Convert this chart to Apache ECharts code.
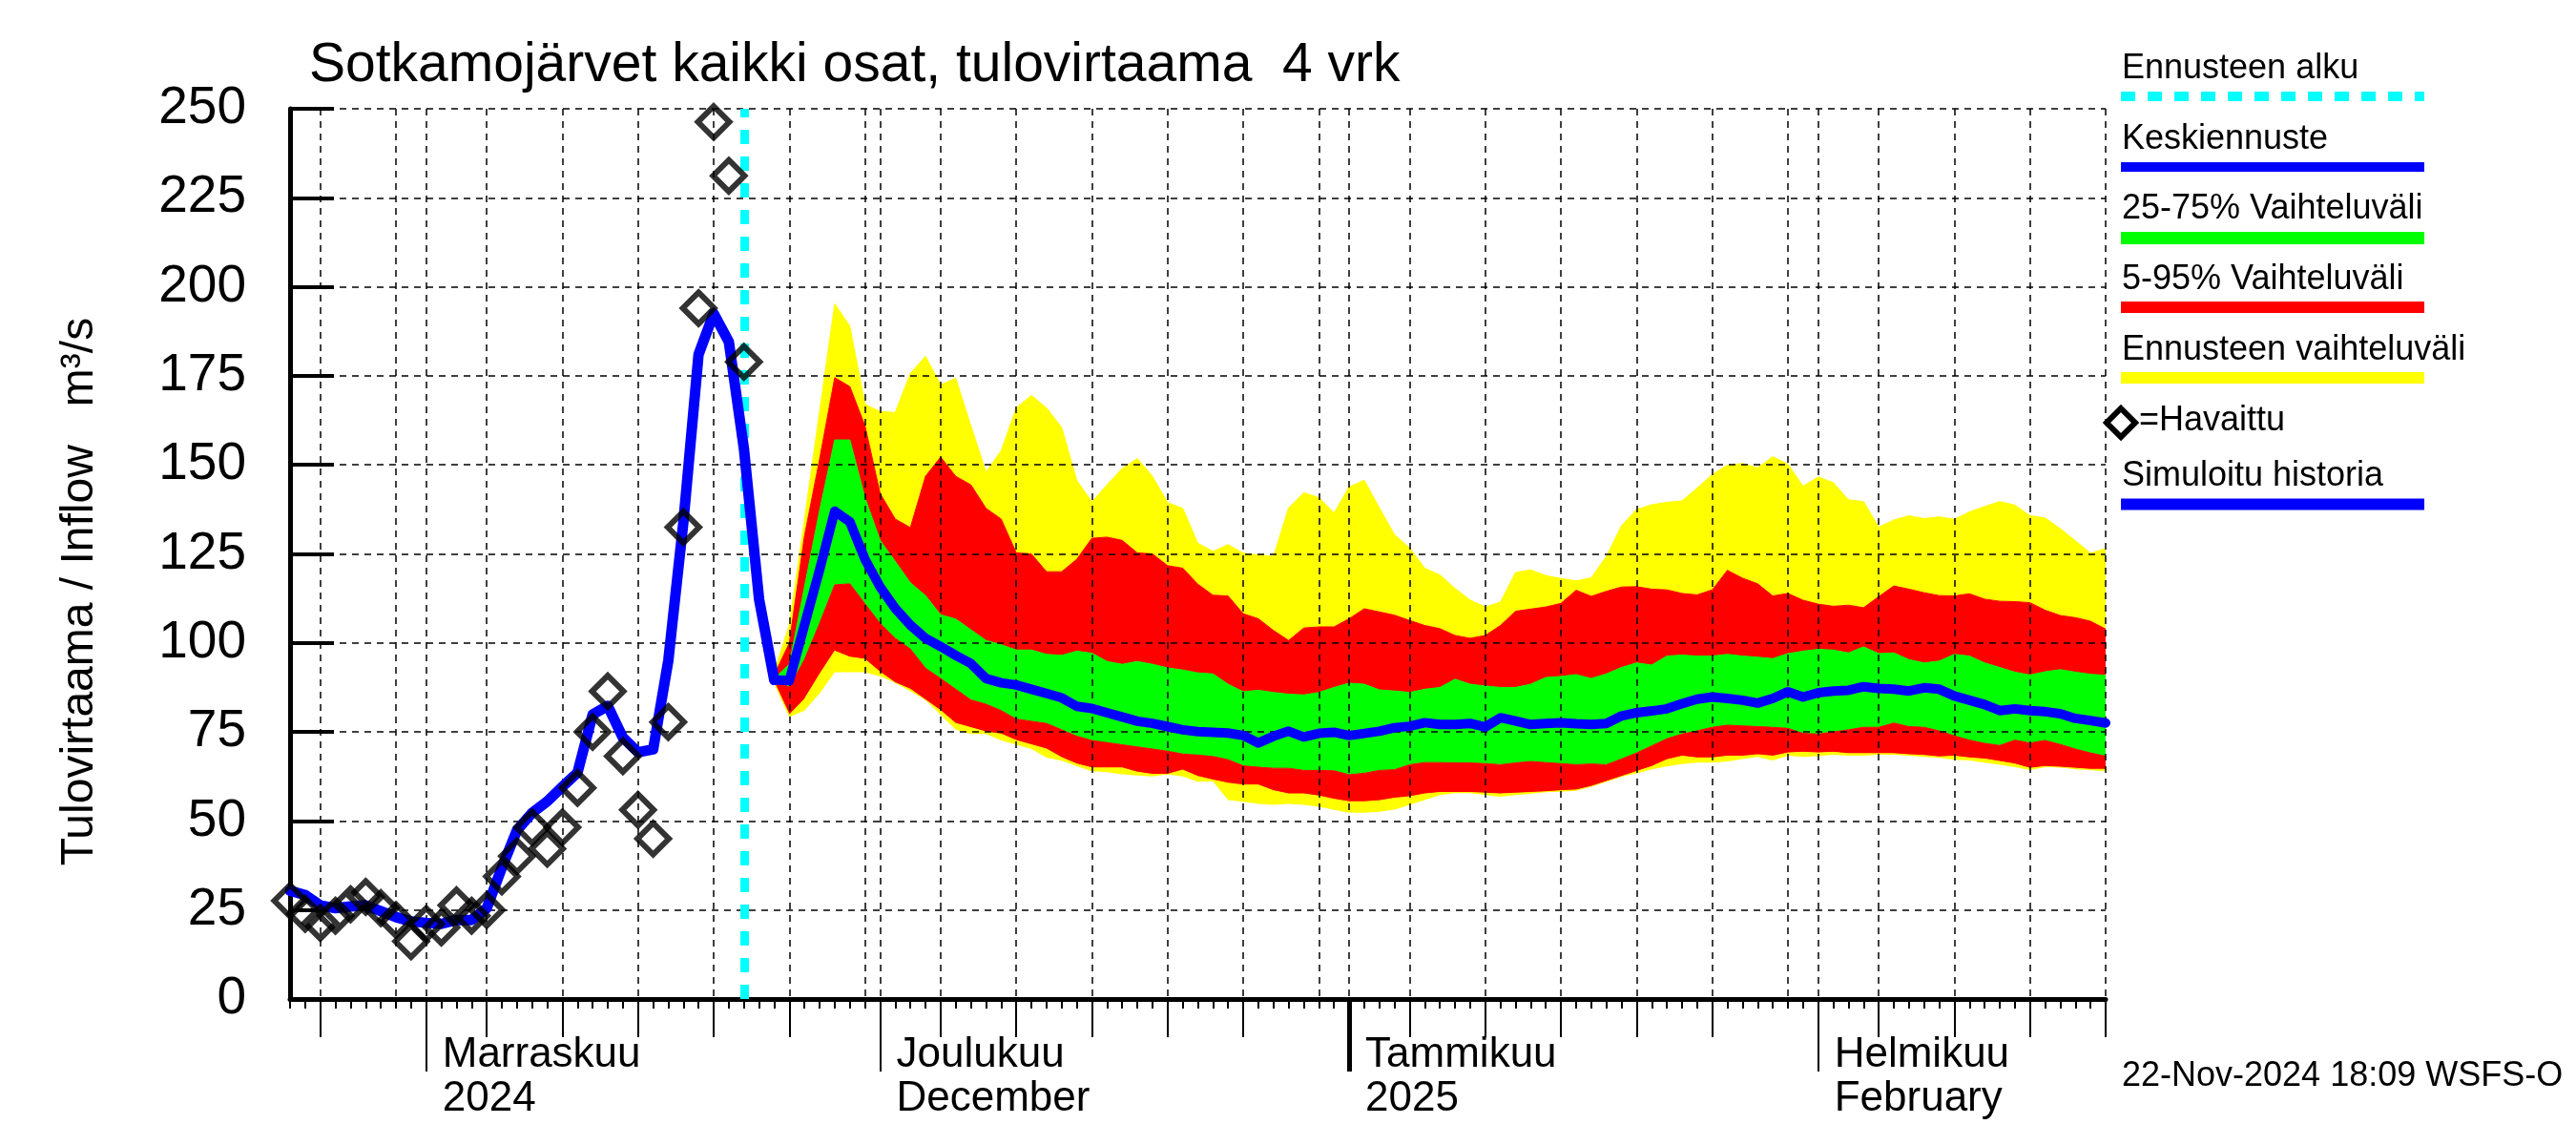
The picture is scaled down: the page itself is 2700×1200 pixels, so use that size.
<!DOCTYPE html>
<html>
<head>
<meta charset="utf-8">
<script src="https://cdn.jsdelivr.net/npm/echarts@6/dist/echarts.min.js"></script>
<style>html,body{margin:0;padding:0;background:#fff}#c{width:2700px;height:1200px}</style>
</head>
<body>
<div id="c"></div>
<script>
// ---- data ----
const startDate = '2024-10-23';
const dayCount = 121;
const monthLabels = {
  '2024-11-01': 'Marraskuu\n2024',
  '2024-12-01': 'Joulukuu\nDecember',
  '2025-01-01': 'Tammikuu\n2025',
  '2025-02-01': 'Helmikuu\nFebruary'
};
const yearStart = '2025-01-01';
const forecastStart = '2024-11-22';
const yTicks = [0, 25, 50, 75, 100, 125, 150, 175, 200, 225, 250];

// observed, daily from 2024-10-23
const observed = [27.6, 23.9, 21.4, 23.4, 26.6, 28.7, 25.5, 22.2, 16.2, 21.1, 20.1, 26.3, 23.4, 25, 34.4, 40.1,
  48.2, 42.2, 48.2, 59.3, 75, 86.4, 68.2, 53.1, 45, 77.8, 132.5, 194, 246.3, 231.2, 178.9];
// simulated history, daily from 2024-10-23
const simulated = [30.4, 29.2, 26.3, 25.5, 26, 26.3, 24.7, 23, 21.8, 21.4, 21.1, 22.2, 22.2, 25.5, 36.9, 47.4,
  52.3, 55.5, 59.6, 63.6, 79.9, 82.3, 73.4, 69.3, 70.1, 95, 134, 181, 192.5, 184.6, 154.5, 112.3, 89.6];

// forecast, daily from 2024-11-24 (index 32)
const forecastOffset = 32;
const median = [89.6, 89.4, 105, 120.5, 137, 134, 123.5, 115.7, 109.7, 105, 101.3, 99, 96.5, 94.2, 90, 88.8, 88.2, 87,
  85.8, 84.6, 82.2, 81.6, 80.4, 79.2, 78, 77.4, 76.5, 75.6, 75.1, 74.9, 74.7, 74, 71.9, 73.8, 75.2, 73.6, 74.6, 74.9,
  74, 74.6, 75.2, 76.2, 76.6, 77.6, 77.1, 77.1, 77.4, 76.4, 79, 78.1, 77.1, 77.4, 77.6, 77.3, 77.1, 77.4, 79.5, 80.4,
  80.9, 81.5, 82.9, 84.2, 84.8, 84.4, 83.9, 83.1, 84.4, 86.3, 84.8, 86, 86.5, 86.7, 87.7, 87.2, 87, 86.5, 87.4, 87,
  85.1, 83.9, 82.7, 81, 81.5, 81, 80.7, 80.1, 78.8, 78.2, 77.5];
const p75 = [90, 94, 115.7, 137.2, 157, 157, 140.8, 128.8, 122.9, 116.9, 113.3, 107.9, 106.7, 103.7, 100.7, 99.5, 98,
  98, 96.8, 96.5, 97.7, 97.1, 94.8, 94, 94.8, 94, 93, 92.4, 91.6, 91.3, 88.4, 86.3, 86.7, 86.1, 85.6, 85.4, 86.1, 87.5,
  88.7, 88.4, 86.8, 86.5, 86.1, 87, 87.5, 89.8, 88.4, 87.9, 87.5, 87.5, 88.4, 90.3, 90.6, 91.1, 89.8, 91.3, 92.9,
  94.4, 93.8, 96.3, 96.6, 96.3, 96.3, 96.8, 96.3, 96, 95.6, 97, 97.7, 98.2, 98, 97.2, 98.9, 97, 97.2, 95.3, 94.4,
  94.9, 96.8, 96.3, 94.4, 93.1, 91.8, 91, 91.9, 92.5, 91.8, 91.2, 90.9];
const p25 = [89.4, 87.6, 95.3, 105.5, 116.3, 116.6, 111, 105.5, 101.3, 98.3, 92.9, 90, 87, 84, 82.8, 81, 78.6, 78,
  77.4, 75.6, 73.8, 72.6, 72, 71.4, 70.8, 70.2, 69.6, 68.8, 68.5, 68.1, 67.2, 65.5, 65.1, 64.8, 64.8, 64.2, 64.2,
  64.1, 63, 63.4, 64.2, 64.4, 65.8, 66.4, 66.4, 66.3, 66.3, 66.1, 65.8, 66.3, 66.7, 66.4, 66.1, 65.8, 65.8, 65.8,
  67.2, 69.1, 71.1, 73.1, 74.4, 75.3, 76.3, 76.9, 76.7, 76.5, 76.3, 76, 74.6, 74.4, 75, 75.6, 76.3, 76.3, 77.5,
  76.5, 76.3, 75.3, 73.9, 72.7, 71.8, 71.2, 72.7, 71.9, 72.6, 71.5, 70.2, 69.1, 68.2];
const p95 = [91, 100, 130, 151.6, 174.5, 172, 161, 142, 134.8, 132.4, 146.8, 152.2, 146.8, 144.4, 137.8, 134.8, 125.3,
  125, 120, 120, 123.5, 129.4, 129.7, 128.8, 125.3, 125, 121.7, 121, 116.5, 113.4, 113.2, 108.2, 106.8, 103.5, 100.7,
  104.2, 104.5, 104.5, 106.8, 109.6, 108.7, 107.8, 106.3, 104.9, 104, 102.1, 101.3, 102.1, 104.9, 108.9, 109.5,
  110.1, 111.1, 114.8, 112.9, 114.5, 115.5, 115.8, 115.1, 114.9, 113.9, 113.5, 114.9, 120.4, 118.2, 116.6, 113.2,
  113.9, 112, 110.9, 110.3, 110.6, 109.9, 113, 116, 115.1, 114.1, 113.3, 113.2, 113.8, 112.3, 111.7, 111.6, 111.3,
  109.2, 107.7, 107.1, 106.1, 103.9];
const p5 = [89, 79.8, 84.2, 91.2, 97.7, 96, 95.4, 91.8, 88.8, 87, 84, 81, 77.4, 76.2, 75, 74.4, 72.6, 71.4, 70.2, 67.8,
  66, 64.9, 64.9, 64.9, 63.7, 63.1, 63.1, 64.3, 62.5, 61.5, 60.6, 60.1, 60.1, 58.5, 57.6, 57.6, 57, 56.1, 55.4, 55.4,
  55.7, 56.4, 56.8, 57.6, 58, 58, 58, 57.8, 57.6, 57.8, 58, 58.2, 58.5, 58.7, 59.5, 61.1, 62.3, 63.9, 65.3, 67.2,
  68.2, 67.7, 67.7, 68.2, 68.2, 68.6, 68.2, 69.1, 69.3, 69.1, 69.3, 68.9, 68.9, 68.9, 68.9, 68.6, 68.4, 68, 68.2,
  67.7, 67.4, 66.7, 66, 64.8, 65.3, 65.1, 64.8, 64.5, 64.5];
const fmax = [92, 105, 134.6, 165, 195.2, 189, 167, 165, 164.7, 175.7, 180.5, 172.5, 174.3, 161, 148, 154, 166, 169.5,
  166, 160.5, 145.6, 139.6, 144.4, 149, 151.8, 146.8, 139.4, 137.8, 128, 125.7, 127.6, 125.2, 124.7, 124.3, 137.9,
  142.2, 140.8, 136.5, 143.8, 145.7, 137.9, 130.4, 126.6, 121, 119.1, 115.3, 112, 110.1, 111.5, 119.8, 120.5, 118.9,
  118.1, 117.4, 118.1, 124.3, 132.7, 137.5, 138.8, 139.5, 139.9, 143.5, 147.3, 149.9, 150.4, 149.2, 152.3, 150.2,
  144, 146.6, 145, 140.2, 139.7, 132.5, 134.5, 135.7, 134.9, 135.4, 134.7, 136.8, 138.3, 139.7, 138.7, 135.7,
  135.1, 132.1, 128.7, 125.2, 126.5];
const fmin = [88.5, 79.2, 81, 85.8, 91.8, 91.8, 91.8, 90.6, 88.8, 86.4, 84, 79.8, 75.6, 74.4, 74.4, 72.6, 71.4, 70.2,
  67.8, 66.9, 65.4, 64, 63.7, 63.1, 62.8, 62.5, 63.1, 62.5, 61, 61.1, 55.9, 55.4, 54.8, 54.5, 54.8, 54.5, 54, 53.1,
  52.3, 52.3, 52.6, 53.2, 54.5, 55.9, 57.3, 57.8, 57.8, 57.3, 56.8, 57.3, 57.6, 58.2, 58.2, 58.5, 59.7, 61.1, 62.5,
  63.4, 64.5, 65.3, 66, 66.4, 66.4, 66.7, 67.4, 68, 67, 68.3, 68, 68.2, 68.6, 68.3, 68.3, 68.6, 68.6, 68.3, 68, 67.7,
  67.2, 67, 66.4, 65.8, 65.1, 64.3, 65.1, 65.1, 64.5, 64.3, 63.9];

// ---- build ----
const FONT = '"Liberation Sans", Arial, Helvetica, sans-serif';
const cats = [];
{
  const d0 = new Date(startDate + 'T00:00:00Z');
  for (let i = 0; i < dayCount; i++) {
    const d = new Date(d0.getTime() + i * 86400000);
    cats.push(d.toISOString().slice(0, 10));
  }
}
const dom = v => parseInt(v.slice(8, 10), 10);
function pad(arr, offset) {
  const out = new Array(dayCount).fill(null);
  arr.forEach((v, i) => { out[offset + i] = v; });
  return out;
}
function diff(a, b) { return a.map((v, i) => Math.max(0, v - b[i])); }

const bandDefs = [
  {name: 'base', data: fmin, color: null},
  {name: 'y1', data: diff(p5, fmin), color: '#ffff00'},
  {name: 'r1', data: diff(p25, p5), color: '#ff0000'},
  {name: 'g', data: diff(p75, p25), color: '#00ff00'},
  {name: 'r2', data: diff(p95, p75), color: '#ff0000'},
  {name: 'y2', data: diff(fmax, p95), color: '#ffff00'}
];
const bandSeries = bandDefs.map(b => ({
  type: 'line', name: b.name, stack: 'band', z: 1, silent: true,
  symbol: 'none', data: pad(b.data, forecastOffset),
  lineStyle: b.color ? {width: 1, color: b.color} : {width: 0, opacity: 0},
  areaStyle: b.color ? {color: b.color, opacity: 1} : undefined
}));

const gridDays = [1, 5, 10, 15, 20, 25, 30];
const fiveDays = [5, 10, 15, 20, 25];

function tickAxis(fn, len, w) {
  return {
    type: 'category', data: cats, boundaryGap: false, gridIndex: 0, position: 'bottom', offset: 0, z: 3,
    axisLine: {show: false}, axisLabel: {show: false}, splitLine: {show: false},
    axisTick: {show: true, interval: (i, v) => fn(v), length: len, lineStyle: {color: '#000', width: w}}
  };
}

const option = {
  animation: false,
  backgroundColor: '#fff',
  textStyle: {fontFamily: FONT},
  grid: {left: 304, right: 493, top: 114, bottom: 153, containLabel: false},
  xAxis: [
    {
      type: 'category', data: cats, boundaryGap: false, position: 'bottom', offset: 0, z: 3,
      axisLine: {show: true, lineStyle: {color: '#000', width: 5}},
      axisTick: {show: true, interval: 0, length: 10, lineStyle: {color: '#000', width: 2}},
      axisLabel: {
        show: true, interval: (i, v) => !!monthLabels[v], formatter: v => monthLabels[v] || '',
        align: 'left', padding: [0, 0, 0, 17], margin: 36, fontSize: 44, lineHeight: 46,
        color: '#000', fontFamily: FONT, hideOverlap: false
      },
      splitLine: {show: true, interval: (i, v) => gridDays.includes(dom(v)),
        lineStyle: {color: '#000', width: 1.5, type: [7, 6]}}
    },
    tickAxis(v => fiveDays.includes(dom(v)), 40, 2),
    tickAxis(v => dom(v) === 1 && v !== yearStart, 76, 2),
    tickAxis(v => v === yearStart, 76, 5)
  ],
  yAxis: {
    type: 'value', min: 0, max: 250, interval: 25, z: 3,
    axisLine: {show: true, onZero: false, lineStyle: {color: '#000', width: 5}},
    axisTick: {show: true, inside: true, length: 46, lineStyle: {color: '#000', width: 4}},
    axisLabel: {margin: 46, fontSize: 55, color: '#000', fontFamily: FONT,
      customValues: yTicks},
    splitLine: {show: true, lineStyle: {color: '#000', width: 1.5, type: [7, 6]}}
  },
  series: [
    ...bandSeries,
    {
      type: 'line', name: 'forecastStart', data: [], z: 4, silent: true,
      markLine: {
        silent: true, symbol: ['none', 'none'], label: {show: false}, z: 4,
        lineStyle: {color: '#00ffff', width: 9, type: [15, 13]},
        data: [{xAxis: forecastStart}]
      }
    },
    {
      type: 'line', name: 'Simuloitu historia', data: pad(simulated, 0), z: 5, symbol: 'none',
      lineStyle: {color: '#0000ff', width: 11, join: 'round', cap: 'round'}, silent: true
    },
    {
      type: 'line', name: 'Keskiennuste', data: pad(median, forecastOffset), z: 5, symbol: 'none',
      lineStyle: {color: '#0000ff', width: 10, join: 'round', cap: 'round'}, silent: true
    },
    {
      type: 'scatter', name: 'Havaittu', data: pad(observed, 0), z: 6, symbol: 'diamond', symbolSize: 33,
      itemStyle: {color: 'rgba(0,0,0,0)', borderColor: '#000', borderWidth: 6}, silent: true
    }
  ],
  graphic: [
    {type: 'text', x: 324, y: 69, style: {text: 'Sotkamojärvet kaikki osat, tulovirtaama  4 vrk',
      fontSize: 57, fontFamily: FONT, fill: '#000', verticalAlign: 'middle', align: 'left'}},
    {type: 'text', x: 84, y: 620, rotation: Math.PI / 2, style: {text: 'Tulovirtaama / Inflow   m³/s',
      fontSize: 48, fontFamily: FONT, fill: '#000', verticalAlign: 'middle', align: 'center'}},
    // legend
    {type: 'text', x: 2224, y: 72, style: {text: 'Ennusteen alku', fontSize: 36, fontFamily: FONT, fill: '#000', verticalAlign: 'middle'}},
    {type: 'line', shape: {x1: 2223, y1: 101, x2: 2541, y2: 101}, style: {stroke: '#00ffff', lineWidth: 10, lineDash: [15, 13]}},
    {type: 'text', x: 2224, y: 146, style: {text: 'Keskiennuste', fontSize: 36, fontFamily: FONT, fill: '#000', verticalAlign: 'middle'}},
    {type: 'line', shape: {x1: 2223, y1: 175, x2: 2541, y2: 175}, style: {stroke: '#0000ff', lineWidth: 10}},
    {type: 'text', x: 2224, y: 219.5, style: {text: '25-75% Vaihteluväli', fontSize: 36, fontFamily: FONT, fill: '#000', verticalAlign: 'middle'}},
    {type: 'line', shape: {x1: 2223, y1: 249.5, x2: 2541, y2: 249.5}, style: {stroke: '#00ff00', lineWidth: 13}},
    {type: 'text', x: 2224, y: 293, style: {text: '5-95% Vaihteluväli', fontSize: 36, fontFamily: FONT, fill: '#000', verticalAlign: 'middle'}},
    {type: 'line', shape: {x1: 2223, y1: 322, x2: 2541, y2: 322}, style: {stroke: '#ff0000', lineWidth: 12}},
    {type: 'text', x: 2224, y: 367.5, style: {text: 'Ennusteen vaihteluväli', fontSize: 36, fontFamily: FONT, fill: '#000', verticalAlign: 'middle'}},
    {type: 'line', shape: {x1: 2223, y1: 396, x2: 2541, y2: 396}, style: {stroke: '#ffff00', lineWidth: 12}},
    {type: 'polygon', shape: {points: [[2223, 428], [2238, 443], [2223, 458], [2208, 443]]}, style: {fill: 'none', stroke: '#000', lineWidth: 6}},
    {type: 'text', x: 2242, y: 441.5, style: {text: '=Havaittu', fontSize: 36, fontFamily: FONT, fill: '#000', verticalAlign: 'middle'}},
    {type: 'text', x: 2224, y: 499.5, style: {text: 'Simuloitu historia', fontSize: 36, fontFamily: FONT, fill: '#000', verticalAlign: 'middle'}},
    {type: 'line', shape: {x1: 2223, y1: 528.5, x2: 2541, y2: 528.5}, style: {stroke: '#0000ff', lineWidth: 12}},
    {type: 'text', x: 2224, y: 1128, style: {text: '22-Nov-2024 18:09 WSFS-O', fontSize: 36, fontFamily: FONT, fill: '#000', verticalAlign: 'middle'}}
  ]
};
const chart = echarts.init(document.getElementById('c'), null, {renderer: 'canvas'});
chart.setOption(option);
</script>
</body>
</html>
